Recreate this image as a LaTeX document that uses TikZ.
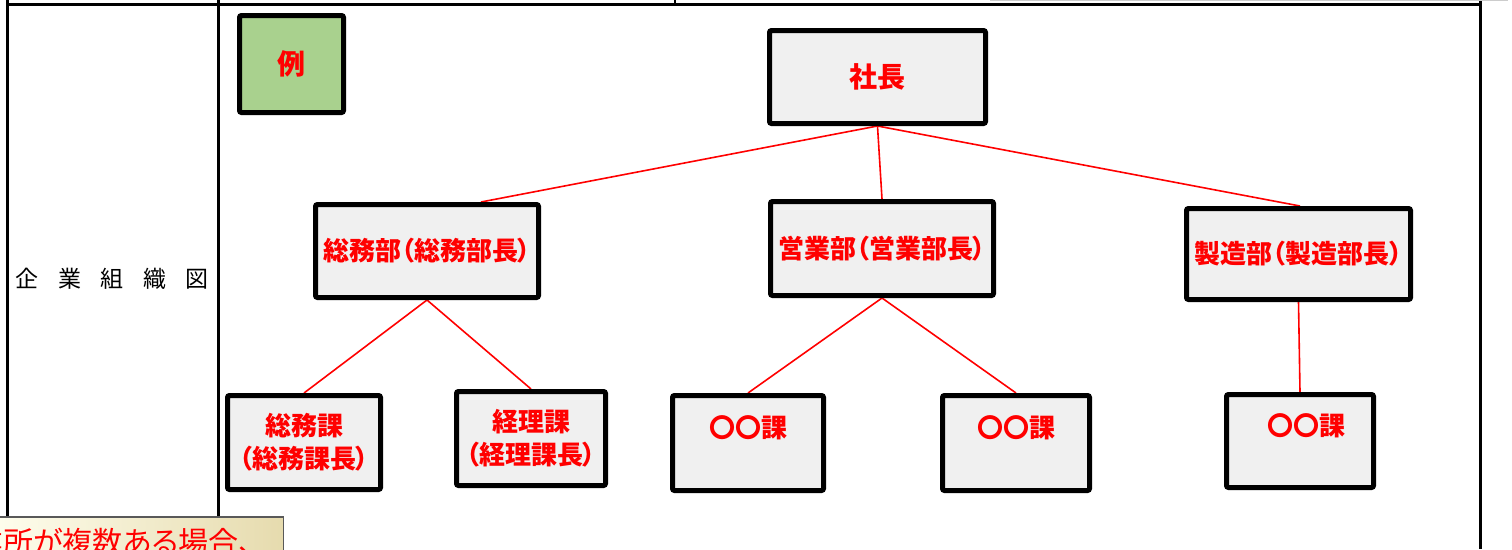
\documentclass[tikz,border=0pt]{standalone}
\usepackage{fontspec}
\newfontfamily\jp[RawFeature=+palt]{Noto Sans CJK JP}
\usetikzlibrary{backgrounds}
\definecolor{boxfill}{HTML}{F0F0F0}
\definecolor{exfill}{HTML}{A9D18E}
\definecolor{creamL}{HTML}{FFFFF0}
\definecolor{creamR}{HTML}{E6DBAE}
\begin{document}
\begin{tikzpicture}[x=1pt,y=-1pt,
  box/.style={draw=black,line width=5pt,fill=boxfill,rounded corners=2pt,inner sep=0pt,
    text=red,font=\jp\bfseries\fontsize{26}{33}\selectfont,align=center},
  bigtext/.style={font=\jp\bfseries\fontsize{28}{33}\selectfont},
  conn/.style={draw=red,line width=1.6pt},
  tline/.style={draw=black,line width=3pt}]
\useasboundingbox (0,0) rectangle (1512,549);
\begin{scope}[on background layer]
  \fill[white] (0,0) rectangle (1512,549);
\end{scope}
\clip (0,0) rectangle (1512,549);
% table rules
\draw[tline] (7.5,0) -- (7.5,549);
\draw[tline] (218.5,0) -- (218.5,549);
\draw[tline] (6,4.5) -- (1482,4.5);
\draw[tline] (1480.5,0) -- (1480.5,549);
\draw[line width=1.5pt] (675,0) -- (675,4.5);
\draw[black!20,line width=1.2pt] (990,0.6) -- (1508,0.6);
% title
\node[font=\jp\fontsize{23}{23}\selectfont,inner sep=0pt] (title) at (112.5,279)
  {企\hspace{19.5pt}業\hspace{19.5pt}組\hspace{19.5pt}織\hspace{19.5pt}図};
% boxes
\node[box,bigtext,fill=exfill,minimum width=104pt,minimum height=97pt] (ex) at (291.5,64) {例};
\node[box,bigtext,minimum width=216pt,minimum height=93pt] (pres) at (877.5,77) {社長};
\node[box,minimum width=223pt,minimum height=93pt] (gen) at (427,251) {総務部（総務部長）};
\node[box,minimum width=223pt,minimum height=94pt] (sales) at (882,248.5) {営業部（営業部長）};
\node[box,minimum width=224pt,minimum height=91pt] (mfg) at (1298.5,254) {製造部（製造部長）};
\node[box,minimum width=153pt,minimum height=94pt] (g1) at (304,442.5) {総務課\\（総務課長）};
\node[box,minimum width=149pt,minimum height=94pt] (g2) at (531,438.5) {経理課\\（経理課長）};
\node[box,minimum width=151pt,minimum height=95pt] (s1) at (748,443) {〇〇課\hspace{9pt}\\\mbox{}};
\node[box,minimum width=147pt,minimum height=95pt] (s2) at (1016,443) {〇〇課\hspace{4pt}\\\mbox{}};
\node[box,minimum width=147pt,minimum height=93pt] (m1) at (1300,441) {\hspace{12pt}〇〇課\\\mbox{}};
% connectors
\begin{scope}[on background layer]
  \draw[conn] (pres.south) -- ([xshift=54pt]gen.north);
  \draw[conn] (pres.south) -- (sales.north);
  \draw[conn] (pres.south) -- ([xshift=1.5pt]mfg.north);
  \draw[conn] (gen.south) -- (g1.north);
  \draw[conn] (gen.south) -- (g2.north);
  \draw[conn] (sales.south) -- (s1.north);
  \draw[conn] (sales.south) -- (s2.north);
  \draw[conn] (mfg.south) -- (m1.north);
\end{scope}
% callout
\node[draw=black!65,line width=1.5pt,left color=creamL,middle color=creamL,right color=creamR,
  anchor=north east,minimum width=300pt,minimum height=50pt,inner sep=0pt] (callout) at (284,516) {};
\node[anchor=base west,text=red,font=\jp\fontsize{30}{30}\selectfont,inner sep=0pt] (note) at (-57,553)
  {事業所が複数ある場合、};
\end{tikzpicture}
\end{document}
